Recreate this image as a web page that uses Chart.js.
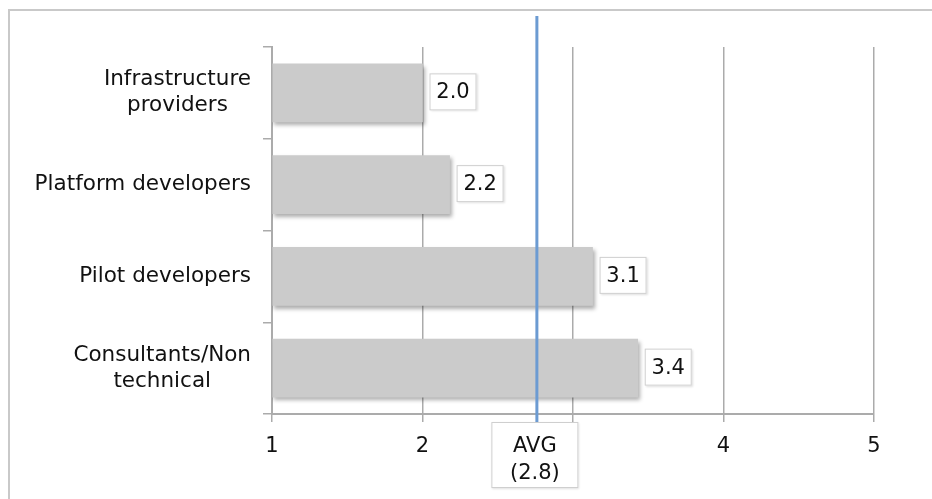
<!DOCTYPE html>
<html lang="en">
<head>
    <meta charset="UTF-8">
    <title>Ratings by role</title>
    <style>
        body {
            margin: 0;
            padding: 0;
            background: #ffffff;
            overflow: hidden;
        }

        canvas {
            display: block;
        }
    </style>
</head>
<body>
    <canvas id="roleChart" width="932" height="499"></canvas>

    <script src="https://cdn.jsdelivr.net/npm/chart.js"></script>
    <script>
        // data
        const categories = [
            ['Infrastructure', 'providers'],
            ['Platform developers'],
            ['Pilot developers'],
            ['Consultants/Non', 'technical']
        ];
        const scores = [2.0, 2.18, 3.13, 3.43];
        const avgScore = 2.76;
        const avgLabel = ['AVG', '(2.8)'];
        const xTicks = [1, 2, 3, 4, 5];
        const hiddenTicks = [3];

        const FONT = '"DejaVu Sans", Verdana, sans-serif';
        const TEXT = '#111111';
        const GRID = '#ababab';

        // grey frame, open at right and bottom
        const frame = {
            id: 'frame',
            beforeDraw(chart) {
                const c = chart.ctx;
                c.save();
                c.strokeStyle = '#c9c9c9';
                c.lineWidth = 2;
                c.beginPath();
                c.moveTo(9, chart.height);
                c.lineTo(9, 10);
                c.lineTo(chart.width, 10);
                c.stroke();
                c.restore();
            }
        };

        // soft shadow under the bars
        const barShadow = {
            id: 'barShadow',
            beforeDatasetsDraw(chart) {
                const c = chart.ctx;
                c.save();
                c.shadowColor = 'rgba(0, 0, 0, 0.32)';
                c.shadowOffsetX = 2;
                c.shadowOffsetY = 3;
                c.shadowBlur = 4;
            },
            afterDatasetsDraw(chart) {
                chart.ctx.restore();
            }
        };

        // category labels: block right aligned, lines centred inside it
        const catLabels = {
            id: 'catLabels',
            afterDraw(chart) {
                const c = chart.ctx;
                const y = chart.scales.y;
                c.save();
                c.font = '21.5px ' + FONT;
                c.fillStyle = TEXT;
                c.textAlign = 'center';
                c.textBaseline = 'middle';
                const right = chart.chartArea.left - 21;
                categories.forEach((lines, i) => {
                    const widest = Math.max(...lines.map(l => c.measureText(l).width));
                    const cx = right - widest / 2;
                    const cy = y.getPixelForValue(i);
                    const lh = 26;
                    lines.forEach((l, k) => {
                        c.fillText(l, cx, cy + (k - (lines.length - 1) / 2) * lh);
                    });
                });
                c.restore();
            }
        };

        function box(c, x, y, w, h) {
            c.save();
            c.shadowColor = 'rgba(0, 0, 0, 0.12)';
            c.shadowOffsetX = 1;
            c.shadowOffsetY = 1;
            c.shadowBlur = 2;
            c.fillStyle = '#ffffff';
            c.fillRect(x, y, w, h);
            c.restore();
            c.strokeStyle = '#cfcfcf';
            c.lineWidth = 1;
            c.strokeRect(x + 0.5, y + 0.5, w - 1, h - 1);
        }

        // average line and its label box
        const avgLine = {
            id: 'avgLine',
            afterDatasetsDraw(chart) {
                const c = chart.ctx;
                const x = chart.scales.x.getPixelForValue(avgScore);
                const area = chart.chartArea;
                c.save();
                c.strokeStyle = '#6c9bd2';
                c.lineWidth = 3;
                c.beginPath();
                c.moveTo(x, 16);
                c.lineTo(x, area.bottom + 8);
                c.stroke();

                const w = 87, h = 66;
                const bx = x - 2 - w / 2, by = area.bottom + 8;
                box(c, bx, by, w, h);
                c.font = '21px ' + FONT;
                c.fillStyle = TEXT;
                c.textAlign = 'center';
                c.textBaseline = 'middle';
                c.fillText(avgLabel[0], bx + w / 2, by + 25);
                c.fillText(avgLabel[1], bx + w / 2, by + 52);
                c.restore();
            }
        };

        // value boxes right of each bar
        const valueBoxes = {
            id: 'valueBoxes',
            afterDatasetsDraw(chart) {
                const c = chart.ctx;
                const meta = chart.getDatasetMeta(0);
                c.save();
                meta.data.forEach((bar, i) => {
                    const w = 47, h = 37;
                    const bx = bar.x + 7, by = bar.y - h / 2 - 1;
                    box(c, bx, by, w, h);
                    c.font = '21px ' + FONT;
                    c.fillStyle = TEXT;
                    c.textAlign = 'center';
                    c.textBaseline = 'middle';
                    c.fillText(scores[i].toFixed(1), bx + w / 2, by + h / 2 + 1);
                });
                c.restore();
            }
        };

        const ctx = document.getElementById('roleChart').getContext('2d');
        new Chart(ctx, {
            type: 'bar',
            data: {
                labels: categories.map(l => l.join(' ')),
                datasets: [{
                    data: scores,
                    base: 1,
                    backgroundColor: '#cbcbcb',
                    borderWidth: 0,
                    barThickness: 58
                }]
            },
            options: {
                indexAxis: 'y',
                responsive: false,
                animation: false,
                events: [],
                layout: {
                    padding: { top: 47, right: 58, bottom: 0, left: 0 }
                },
                plugins: {
                    legend: { display: false },
                    tooltip: { enabled: false }
                },
                scales: {
                    x: {
                        min: xTicks[0],
                        max: xTicks[xTicks.length - 1],
                        afterBuildTicks(scale) {
                            scale.ticks = xTicks.map(v => ({ value: v }));
                        },
                        afterFit(scale) {
                            scale.height = 85;
                        },
                        grid: {
                            color: GRID,
                            lineWidth: 1.5,
                            tickLength: 8
                        },
                        border: { color: GRID, width: 2 },
                        ticks: {
                            padding: 12,
                            color: TEXT,
                            font: { family: FONT, size: 21 },
                            callback: v => hiddenTicks.includes(v) ? '' : String(v)
                        }
                    },
                    y: {
                        afterFit(scale) {
                            scale.width = 272;
                        },
                        grid: {
                            drawOnChartArea: false,
                            drawTicks: true,
                            tickLength: 9,
                            color: GRID,
                            lineWidth: 1.5
                        },
                        border: { color: GRID, width: 2 },
                        ticks: {
                            color: 'rgba(0,0,0,0)',
                            font: { family: FONT, size: 21 }
                        }
                    }
                }
            },
            plugins: [frame, barShadow, avgLine, valueBoxes, catLabels]
        });
    </script>
</body>
</html>
